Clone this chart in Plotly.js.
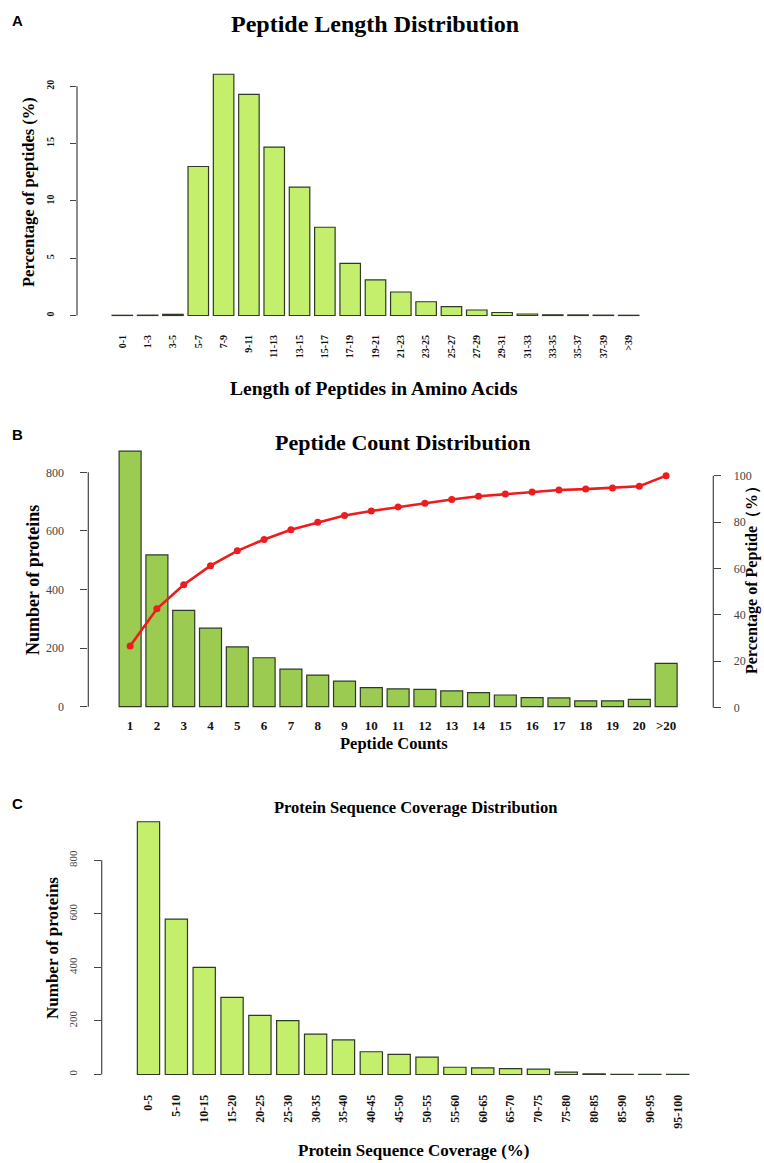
<!DOCTYPE html>
<html>
<head>
<meta charset="utf-8">
<script src="https://cdn.plot.ly/plotly-3.0.1.min.js"></script>
<style>html,body{margin:0;padding:0;background:#fff;}#chart{width:764px;height:1163px;}</style>
</head>
<body>
<div id="chart"></div>
<script>
// ---- Panel A data ----
const lengthCategories = ['0-1','1-3','3-5','5-7','7-9','9-11','11-13','13-15','15-17','17-19','19-21','21-23','23-25','25-27','27-29','29-31','31-33','33-35','35-37','37-39','>39'];
const lengthPercent = [0.02,0.03,0.1,13.0,21.05,19.3,14.7,11.2,7.7,4.55,3.1,2.05,1.2,0.78,0.48,0.26,0.13,0.06,0.05,0.03,0.02];
const lengthYTicks = [0,5,10,15,20];

// ---- Panel B data ----
const countCategories = ['1','2','3','4','5','6','7','8','9','10','11','12','13','14','15','16','17','18','19','20','>20'];
const countProteins = [872,518,329,268,204,167,128,108,87,65,61,59,54,48,40,31,30,20,20,25,148];
const countCumulativePercent = [26.6,42.6,53.0,61.2,67.6,72.5,76.7,79.9,82.8,84.8,86.5,88.1,89.7,91.1,92.1,93.0,93.8,94.2,94.7,95.4,100];
const countLeftTicks = [0,200,400,600,800];
const countRightTicks = [0,20,40,60,80,100];

// ---- Panel C data ----
const coverageCategories = ['0-5','5-10','10-15','15-20','20-25','25-30','30-35','35-40','40-45','45-50','50-55','55-60','60-65','65-70','70-75','75-80','80-85','85-90','90-95','95-100'];
const coverageProteins = [944,580,400,288,221,201,151,129,85,75,65,27,25,22,20,9,2,1,1,1];
const coverageYTicks = [0,200,400,600,800];

const W = 764, H = 1163;
const px = x => x / W;
const py = y => 1 - y / H;

const serif = 'Liberation Serif, Times New Roman, serif';
const limeFill = '#c4ef6c';
const oliveFill = '#9ccb52';
const edge = '#2f3a25';
const axisCol = '#444';

const traces = [
  {type:'bar', x:lengthCategories.map((c,i)=>i), y:lengthPercent, xaxis:'x', yaxis:'y',
   width:0.81, marker:{color:limeFill, line:{color:edge, width:1.2}}},
  {type:'bar', x:countCategories.map((c,i)=>i), y:countProteins, xaxis:'x2', yaxis:'y2',
   width:0.82, marker:{color:oliveFill, line:{color:edge, width:1.2}}},
  {type:'scatter', mode:'lines+markers', x:countCategories.map((c,i)=>i), y:countCumulativePercent, xaxis:'x2', yaxis:'y3',
   line:{color:'#ee1c1c', width:2.6}, marker:{color:'#ee1c1c', size:7}},
  {type:'bar', x:coverageCategories.map((c,i)=>i), y:coverageProteins, xaxis:'x4', yaxis:'y4',
   width:0.8, marker:{color:limeFill, line:{color:edge, width:1.2}}}
];

const tickFontBold = (s) => ({family:serif, size:s, color:'#111', weight:'bold'});

const layout = {
  width:W, height:H, autosize:false, showlegend:false,
  margin:{l:0,r:0,t:0,b:0,pad:0},
  paper_bgcolor:'#fff', plot_bgcolor:'rgba(0,0,0,0)',
  bargap:0,
  xaxis:{domain:[px(77),px(674)], range:[-1.79,21.79], anchor:'y',
    tickmode:'array', tickvals:lengthCategories.map((c,i)=>i), ticktext:lengthCategories,
    tickangle:-90, ticks:'outside', ticklen:5, tickcolor:'rgba(0,0,0,0)',
    tickfont:tickFontBold(10), showgrid:false, zeroline:false, showline:false},
  yaxis:{domain:[py(325),py(62)], range:[-0.83,22.12], anchor:'x',
    tickmode:'array', tickvals:lengthYTicks, tickangle:-90,
    ticks:'outside', ticklen:6, tickcolor:axisCol, ticklabelstandoff:12,
    tickfont:tickFontBold(10), showgrid:false, zeroline:false, showline:false},

  xaxis2:{domain:[px(88.3),px(713.3)], range:[-1.56,21.76], anchor:'y2',
    tickmode:'array', tickvals:countCategories.map((c,i)=>i), ticktext:countCategories,
    ticks:'outside', ticklen:1, tickcolor:'rgba(0,0,0,0)',
    tickfont:tickFontBold(13), showgrid:false, zeroline:false, showline:false},
  yaxis2:{domain:[py(712),py(445)], range:[-18.1,893.2], anchor:'x2',
    tickmode:'array', tickvals:countLeftTicks,
    ticks:'outside', ticklen:7, tickcolor:axisCol, ticklabelstandoff:14,
    tickfont:{family:serif, size:12, color:'#444'}, showgrid:false, zeroline:false, showline:false},
  yaxis3:{domain:[py(712),py(445)], range:[-1.85,113.2], anchor:'x2', overlaying:'y2', side:'right',
    tickmode:'array', tickvals:countRightTicks,
    ticks:'outside', ticklen:7, tickcolor:axisCol, ticklabelstandoff:10,
    tickfont:{family:serif, size:12, color:'#444'}, showgrid:false, zeroline:false, showline:false},

  xaxis4:{domain:[px(101.7),px(724.5)], range:[-1.68,20.68], anchor:'y4',
    tickmode:'array', tickvals:coverageCategories.map((c,i)=>i), ticktext:coverageCategories,
    tickangle:-90, ticks:'outside', ticklen:5, tickcolor:'rgba(0,0,0,0)',
    tickfont:tickFontBold(12), showgrid:false, zeroline:false, showline:false},
  yaxis4:{domain:[py(1084),py(812)], range:[-35.5,980.4], anchor:'x4',
    tickmode:'array', tickvals:coverageYTicks, tickangle:-90,
    ticks:'outside', ticklen:7, tickcolor:axisCol, ticklabelstandoff:12,
    tickfont:{family:serif, size:11, color:'#444'}, showgrid:false, zeroline:false, showline:false},

  shapes:[
    {type:'line', xref:'x domain', yref:'y', x0:0, x1:0, y0:lengthYTicks[0], y1:lengthYTicks[lengthYTicks.length-1], line:{color:axisCol, width:1.2}},
    {type:'line', xref:'x2 domain', yref:'y2', x0:0, x1:0, y0:countLeftTicks[0], y1:countLeftTicks[countLeftTicks.length-1], line:{color:axisCol, width:1.2}},
    {type:'line', xref:'x2 domain', yref:'y3', x0:1, x1:1, y0:countRightTicks[0], y1:countRightTicks[countRightTicks.length-1], line:{color:axisCol, width:1.2}},
    {type:'line', xref:'x4 domain', yref:'y4', x0:0, x1:0, y0:coverageYTicks[0], y1:coverageYTicks[coverageYTicks.length-1], line:{color:axisCol, width:1.2}}
  ],

  annotations:[
    {text:'<b>A</b>', x:px(17), y:py(21), xref:'paper', yref:'paper', showarrow:false, xanchor:'center', yanchor:'middle', font:{family:'Liberation Sans, Arial, sans-serif', size:15, color:'#000'}},
    {text:'<b>Peptide Length Distribution</b>', x:px(375), y:py(24), xref:'paper', yref:'paper', showarrow:false, xanchor:'center', yanchor:'middle', font:{family:serif, size:24, color:'#000'}},
    {text:'<b>Length of Peptides in Amino Acids</b>', x:px(374), y:py(388), xref:'paper', yref:'paper', showarrow:false, xanchor:'center', yanchor:'middle', font:{family:serif, size:19.5, color:'#000'}},
    {text:'<b>Percentage of peptides (%)</b>', x:px(28), y:py(192), xref:'paper', yref:'paper', showarrow:false, textangle:-90, xanchor:'center', yanchor:'middle', font:{family:serif, size:16.5, color:'#000'}},

    {text:'<b>B</b>', x:px(17), y:py(435), xref:'paper', yref:'paper', showarrow:false, xanchor:'center', yanchor:'middle', font:{family:'Liberation Sans, Arial, sans-serif', size:15, color:'#000'}},
    {text:'<b>Peptide Count Distribution</b>', x:px(402), y:py(442), xref:'paper', yref:'paper', showarrow:false, xanchor:'center', yanchor:'middle', font:{family:serif, size:22, color:'#000'}},
    {text:'<b>Peptide Counts</b>', x:px(394), y:py(743), xref:'paper', yref:'paper', showarrow:false, xanchor:'center', yanchor:'middle', font:{family:serif, size:16.5, color:'#000'}},
    {text:'<b>Number of proteins</b>', x:px(33), y:py(580), xref:'paper', yref:'paper', showarrow:false, textangle:-90, xanchor:'center', yanchor:'middle', font:{family:serif, size:18, color:'#000'}},
    {text:'<b>Percentage of Peptide（%）</b>', x:px(752), y:py(576), xref:'paper', yref:'paper', showarrow:false, textangle:-90, xanchor:'center', yanchor:'middle', font:{family:serif, size:16, color:'#000'}},

    {text:'<b>C</b>', x:px(17), y:py(803), xref:'paper', yref:'paper', showarrow:false, xanchor:'center', yanchor:'middle', font:{family:'Liberation Sans, Arial, sans-serif', size:15, color:'#000'}},
    {text:'<b>Protein Sequence Coverage Distribution</b>', x:px(415), y:py(807), xref:'paper', yref:'paper', showarrow:false, xanchor:'center', yanchor:'middle', font:{family:serif, size:16.5, color:'#000'}},
    {text:'<b>Protein Sequence Coverage (%)</b>', x:px(414), y:py(1150), xref:'paper', yref:'paper', showarrow:false, xanchor:'center', yanchor:'middle', font:{family:serif, size:17, color:'#000'}},
    {text:'<b>Number of proteins</b>', x:px(52), y:py(948), xref:'paper', yref:'paper', showarrow:false, textangle:-90, xanchor:'center', yanchor:'middle', font:{family:serif, size:17, color:'#000'}}
  ]
};

Plotly.newPlot('chart', traces, layout, {staticPlot:true, displayModeBar:false});
</script>
</body>
</html>
